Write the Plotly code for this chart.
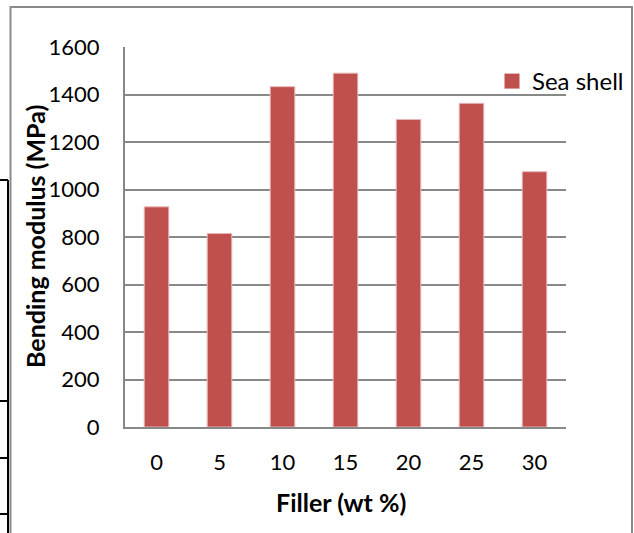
import plotly.graph_objects as go

categories = ["0", "5", "10", "15", "20", "25", "30"]
bending_modulus = [927, 815, 1433, 1490, 1295, 1363, 1075]
series_name = "Sea shell"
y_ticks = [0, 200, 400, 600, 800, 1000, 1200, 1400, 1600]

W, H = 634, 533
L, R, T, B = 125, 68, 47, 106
pw, ph = W - L - R, H - T - B

def px(x):
    return (x - L) / pw

def py(y):
    return (H - B - y) / ph

bar_color = "#C0504D"
grid = "#888888"
font = "Lato"

fig = go.Figure()
fig.add_trace(go.Bar(
    x=categories, y=bending_modulus, name=series_name,
    marker=dict(color=bar_color, line=dict(color="#E6B9B8", width=1)),
    showlegend=False,
))
fig.add_trace(go.Scatter(
    x=[None], y=[None], mode="markers", name=series_name,
    marker=dict(symbol="square", size=15, color=bar_color),
))

shapes = [
    dict(type="rect", xref="paper", yref="paper",
         x0=px(10.5), x1=px(632), y0=py(7), y1=py(560),
         line=dict(color="#8a8a8a", width=2), fillcolor="rgba(0,0,0,0)"),
    dict(type="line", xref="paper", yref="paper",
         x0=px(8), x1=px(8), y0=py(180), y1=py(560),
         line=dict(color="black", width=2)),
]
for yy in [180, 401, 458, 514]:
    shapes.append(dict(type="line", xref="paper", yref="paper",
                       x0=px(-2), x1=px(8), y0=py(yy), y1=py(yy),
                       line=dict(color="black", width=2)))

fig.update_layout(
    width=W, height=H,
    margin=dict(l=L, r=R, t=T, b=B, autoexpand=False),
    paper_bgcolor="white", plot_bgcolor="white",
    font=dict(family=font, size=22, color="black"),
    bargap=0.61,
    showlegend=True,
    legend=dict(x=px(492), y=py(59), xanchor="left", yanchor="top",
                bgcolor="rgba(0,0,0,0)", font=dict(family=font, size=24),
                itemwidth=30, tracegroupgap=0),
    shapes=shapes,
    annotations=[
        dict(text="<b>Bending modulus (MPa)</b>", xref="paper", yref="paper",
             x=px(35), y=py(237), textangle=-90, showarrow=False,
             font=dict(family=font, size=25, color="black"),
             xanchor="center", yanchor="middle"),
        dict(text="<b>Filler (wt %)</b>", xref="paper", yref="paper",
             x=px(341), y=py(502), showarrow=False,
             font=dict(family=font, size=25, color="black"),
             xanchor="center", yanchor="middle"),
    ],
)
fig.update_xaxes(
    showline=True, linecolor=grid, linewidth=2, showgrid=False,
    ticks="", ticklabelstandoff=15, tickfont=dict(family=font, size=22),
    fixedrange=True,
)
fig.update_yaxes(
    range=[0, 1600], tickvals=y_ticks, showline=True, linecolor=grid,
    linewidth=2, showgrid=True, gridcolor=grid, gridwidth=2,
    ticks="", ticklabelstandoff=19, tickfont=dict(family=font, size=22),
    zeroline=False, fixedrange=True,
)
fig.write_html("out.html")
